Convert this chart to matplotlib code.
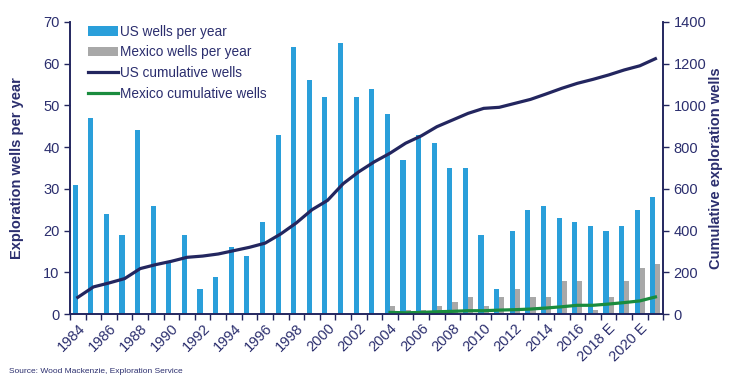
import numpy as np
import matplotlib
matplotlib.use("Agg")
import matplotlib.pyplot as plt
from matplotlib.ticker import FixedLocator

plt.rcParams['font.family'] = ['Liberation Sans', 'DejaVu Sans']

# data
years = list(range(1984, 2022))
year_labels = [str(y) for y in years]
year_labels[years.index(2018)] = "2018 E"
year_labels[years.index(2020)] = "2020 E"

us_wells = [31, 47, 24, 19, 44, 26, 12.5, 19, 6, 9, 16, 14, 22, 43, 64, 56, 52, 65,
            52, 54, 48, 37, 43, 41, 35, 35, 19, 6, 20, 25, 26, 23, 22, 21, 20, 21, 25, 28]
mexico_years = list(range(2004, 2022))
mexico_wells = [2, 1, 1, 2, 3, 4, 2, 4, 6, 4, 4, 8, 8, 1, 4, 8, 11, 12]
us_cum = [80, 130, 149, 170, 218, 237, 253, 272, 278, 288, 304, 320, 340, 384, 437, 500,
          545, 625, 682, 730, 771, 819, 854, 898, 930, 962, 986, 991, 1010, 1029, 1055,
          1082, 1106, 1125, 1146, 1170, 1190, 1224]
mexico_cum = [8, 6, 8, 11, 13, 16, 16, 19, 21, 24, 29, 35, 42, 42, 48, 55, 63, 82]

navy = "#23265F"
text_col = "#2B2E6E"
blue = "#2A9FDA"
grey = "#A8A8A8"
green = "#1A8C3E"

fig = plt.figure(figsize=(7.5, 3.83), dpi=100)
ax = fig.add_axes([0.0933, 0.180, 0.791, 0.7626])
ax2 = ax.twinx()

x = np.arange(len(years))
xm = np.array([years.index(y) for y in mexico_years])
w = 0.33

b1 = ax.bar(x - 0.17, us_wells, width=w, color=blue, zorder=2, label="US wells per year")
b2 = ax.bar(xm + 0.16, mexico_wells, width=w, color=grey, zorder=2, label="Mexico wells per year")
l1, = ax2.plot(x, us_cum, color=navy, lw=2.3, label="US cumulative wells")
l2, = ax2.plot(xm, mexico_cum, color=green, lw=2.3, label="Mexico cumulative wells")

ax.set_xlim(-0.5, len(years) - 0.5)
ax.set_ylim(0, 70)
ax2.set_ylim(0, 1400)
ax.set_yticks(range(0, 71, 10))
ax2.set_yticks(range(0, 1401, 200))

ax.set_xticks(x[::2])
ax.set_xticklabels(year_labels[::2], rotation=45, ha='right', rotation_mode='anchor',
                   fontsize=10.5, color=text_col)
ax.xaxis.set_minor_locator(FixedLocator(np.arange(-0.5, len(years), 1)))
ax.tick_params(axis='x', which='major', length=0, pad=5)
ax.tick_params(axis='x', which='minor', length=4, width=1, color=navy, direction='out')
ax.tick_params(axis='y', labelsize=10.5, labelcolor=text_col, color=navy, length=4, width=1)
ax2.tick_params(axis='y', labelsize=10.5, labelcolor=text_col, color=navy, length=4, width=1)

for a in (ax, ax2):
    a.spines['top'].set_visible(False)
    for s in ('left', 'right', 'bottom'):
        a.spines[s].set_color(navy)
        a.spines[s].set_linewidth(1.2)

ax.set_ylabel("Exploration wells per year", fontsize=10.5, fontweight='bold', color=text_col)
ax2.set_ylabel("Cumulative exploration wells", fontsize=10.5, fontweight='bold', color=text_col)
ax.yaxis.set_label_coords(-0.077, 0.5)
ax2.yaxis.set_label_coords(1.077, 0.5)

leg = ax.legend(handles=[b1, b2, l1, l2], loc='upper left', bbox_to_anchor=(0.022, 1.01),
                frameon=False, fontsize=9.8, handlelength=2.2, handletextpad=0.15,
                labelspacing=0.5, borderaxespad=0)
for t in leg.get_texts():
    t.set_color(text_col)

fig.text(0.012, 0.025, "Source: Wood Mackenzie, Exploration Service", fontsize=6, color=text_col)

fig.savefig("out.png", dpi=100)
